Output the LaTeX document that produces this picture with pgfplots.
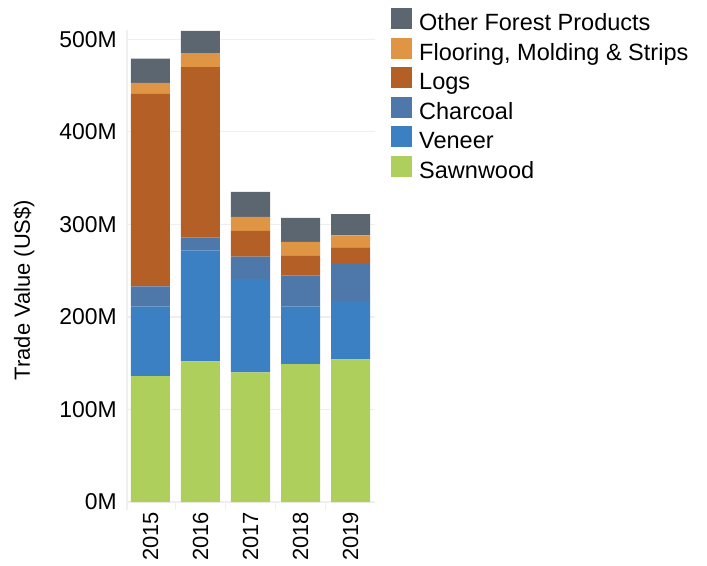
\documentclass[border=0pt]{standalone}
\usepackage{fontspec}
\setmainfont{Liberation Sans}
\usepackage{pgfplots}
\pgfplotsset{compat=1.18}
\definecolor{cOther}{HTML}{5C6670}
\definecolor{cFloor}{HTML}{E09545}
\definecolor{cLogs}{HTML}{B35F26}
\definecolor{cChar}{HTML}{4E78AA}
\definecolor{cVen}{HTML}{3B80C3}
\definecolor{cSawn}{HTML}{AECF5C}
\definecolor{gridgray}{HTML}{EFEFEF}
\begin{document}
\begin{tikzpicture}
\useasboundingbox (-127bp,-64bp) rectangle (580bp,502bp);
\begin{axis}[
  scale only axis, width=248bp, height=472bp,
  ybar stacked, bar width=39bp,
  xmin=-0.47, xmax=4.49, ymin=0, ymax=510,
  xtick={0,1,2,3,4}, xticklabels={2015,2016,2017,2018,2019},
  ytick={0,100,200,300,400,500}, yticklabels={0M,100M,200M,300M,400M,500M},
  major tick length=0pt,
  ymajorgrids, grid style={draw=gridgray, line width=1.2bp},
  axis x line*=bottom, axis y line*=left,
  axis line style={draw=gridgray, line width=1.2bp},
  ticklabel style={font=\fontsize{22}{26}\selectfont, inner sep=0pt},
  xticklabel style={yshift=-10bp, rotate=90, anchor=east},
  yticklabel style={anchor=east, xshift=-10bp, font=\fontsize{23}{27}\selectfont},
  extra x ticks={-0.47,0.5,1.5,2.5,3.5}, extra x tick labels={},
  extra x tick style={major tick length=8bp, tick align=outside, grid=none,
     tick style={draw=gridgray, line width=1.2bp}},
  ylabel={Trade Value (US\$)},
  ylabel style={at={(axis description cs:-0.415,0.449)}, anchor=center, font=\fontsize{22}{26}\selectfont},
  reverse legend,
  legend style={at={(axis description cs:1.0645,1.047)}, anchor=north west, draw=none, fill=none,
     font=\fontsize{23.6}{27}\selectfont, row sep=2bp, column sep=7bp, inner sep=0pt,
     nodes={text height=16bp, text depth=5bp, inner sep=0pt}},
  legend cell align=left,
  legend image code/.code={\fill[#1,draw=none] (0bp,-4bp) rectangle (21bp,17bp);},
]
\addplot+[fill=cSawn, draw=none] coordinates {(0,136) (1,152) (2,140) (3,149) (4,154)};
\addplot+[fill=cVen, draw=none] coordinates {(0,75) (1,120) (2,101) (3,62) (4,63)};
\addplot+[fill=cChar, draw=none] coordinates {(0,22) (1,14) (2,24) (3,34) (4,41)};
\addplot+[fill=cLogs, draw=none] coordinates {(0,208) (1,184) (2,28) (3,21) (4,17)};
\addplot+[fill=cFloor, draw=none] coordinates {(0,12) (1,15) (2,15) (3,15) (4,13)};
\addplot+[fill=cOther, draw=none] coordinates {(0,26) (1,24) (2,27) (3,26) (4,23)};
\legend{Sawnwood,Veneer,Charcoal,Logs,{Flooring, Molding \& Strips},Other Forest Products}
\end{axis}
\end{tikzpicture}
\end{document}
